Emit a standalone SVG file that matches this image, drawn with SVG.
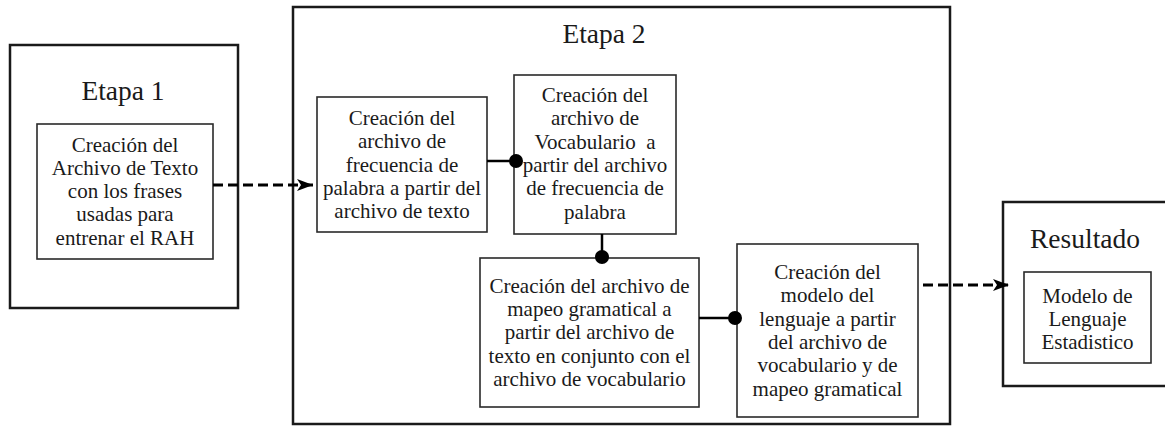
<svg xmlns="http://www.w3.org/2000/svg" width="1165" height="433" viewBox="0 0 1165 433">
<style>
.outer{fill:#fff;stroke:#1a1a1a;stroke-width:2.5}
.inner{fill:#fff;stroke:#2a2a2a;stroke-width:1.6}
.t{font-size:21px;fill:#1a1a1a;text-anchor:middle}
.title{font-size:27.5px;fill:#1a1a1a;text-anchor:middle}
.solid{stroke:#000;stroke-width:2.5;fill:none}
.dash{stroke:#000;stroke-width:2.8;fill:none;stroke-dasharray:10 5}
.dot{fill:#000}
</style>
<defs>
<marker id="arr" markerWidth="16" markerHeight="12" refX="16" refY="6" orient="auto" markerUnits="userSpaceOnUse">
<path d="M0,0 L16,6 L0,12 L4,6 Z" fill="#000"/>
</marker>
</defs>
<rect width="1165" height="433" fill="#fff"/>
<g font-family="Liberation Serif, Times New Roman, DejaVu Serif, serif">
<g id="etapa1">
<rect class="outer" x="10" y="45" width="228" height="263"/>
<text class="title" x="123" y="100">Etapa 1</text>
<g id="archivo-texto">
<rect class="inner" x="37" y="124" width="176" height="135"/>
<text class="t"><tspan x="125" y="151.5">Creación del</tspan><tspan x="125" y="174.8">Archivo de Texto</tspan><tspan x="125" y="198.1">con los frases</tspan><tspan x="125" y="221.4">usadas para</tspan><tspan x="125" y="244.7">entrenar el RAH</tspan></text>
</g>
</g>
<g id="etapa2">
<rect class="outer" x="293" y="7" width="657" height="417"/>
<text class="title" x="604" y="43">Etapa 2</text>
</g>
<g id="frecuencia">
<rect class="inner" x="317" y="97" width="170" height="135"/>
<text class="t"><tspan x="402" y="125">Creación del</tspan><tspan x="402" y="148.3">archivo de</tspan><tspan x="402" y="171.6">frecuencia de</tspan><tspan x="402" y="194.9">palabra a partir del</tspan><tspan x="402" y="218.2">archivo de texto</tspan></text>
</g>
<g id="vocabulario">
<rect class="inner" x="514" y="75" width="162" height="159"/>
<text class="t"><tspan x="595" y="102">Creación del</tspan><tspan x="595" y="125.3">archivo de</tspan><tspan x="595" y="148.6">Vocabulario&#160; a</tspan><tspan x="595" y="171.9">partir del archivo</tspan><tspan x="595" y="195.2">de frecuencia de</tspan><tspan x="595" y="218.5">palabra</tspan></text>
</g>
<g id="mapeo">
<rect class="inner" x="480" y="258" width="219" height="149"/>
<text class="t"><tspan x="589.5" y="292.7">Creación del archivo de</tspan><tspan x="589.5" y="316">mapeo gramatical a</tspan><tspan x="589.5" y="339.3">partir del archivo de</tspan><tspan x="589.5" y="362.6">texto en conjunto con el</tspan><tspan x="589.5" y="385.9">archivo de vocabulario</tspan></text>
</g>
<g id="modelo">
<rect class="inner" x="737" y="244" width="181" height="173"/>
<text class="t"><tspan x="827.5" y="279">Creación del</tspan><tspan x="827.5" y="302.3">modelo del</tspan><tspan x="827.5" y="325.6">lenguaje a partir</tspan><tspan x="827.5" y="348.9">del archivo de</tspan><tspan x="827.5" y="372.2">vocabulario y de</tspan><tspan x="827.5" y="395.5">mapeo gramatical</tspan></text>
</g>
<g id="resultado">
<rect class="outer" x="1003" y="202" width="175" height="184"/>
<text class="title" x="1085" y="248">Resultado</text>
<g id="modelo-estadistico">
<rect class="inner" x="1024" y="272" width="127" height="91"/>
<text class="t"><tspan x="1087.5" y="302.5">Modelo de</tspan><tspan x="1087.5" y="325.5">Lenguaje</tspan><tspan x="1087.5" y="348.5">Estadistico</tspan></text>
</g>
</g>
</g>
<g id="connectors">
<line class="dash" x1="213" y1="185" x2="313" y2="185" marker-end="url(#arr)"/>
<line class="solid" x1="487" y1="161" x2="516" y2="161"/>
<circle class="dot" cx="516" cy="161" r="7"/>
<line class="solid" x1="602" y1="234" x2="602" y2="257"/>
<circle class="dot" cx="602" cy="257" r="7"/>
<line class="solid" x1="699" y1="318" x2="735" y2="318"/>
<circle class="dot" cx="735" cy="318" r="7"/>
<line class="dash" x1="923" y1="285" x2="1009" y2="285" marker-end="url(#arr)"/>
</g>
</svg>
